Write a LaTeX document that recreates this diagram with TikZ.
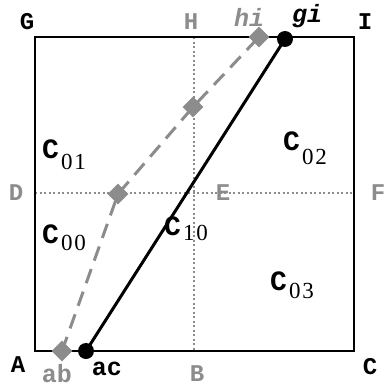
\documentclass[tikz,border=0pt]{standalone}
\usepackage{fontspec}
\setmonofont{Liberation Mono}
\newfontfamily\serifnum{Liberation Serif}
\usetikzlibrary{shapes.geometric}
\definecolor{lgray}{RGB}{140,140,140}
\tikzset{
  blk/.style={font=\ttfamily\bfseries\fontsize{24}{24}\selectfont, text=black, inner sep=0pt},
  gry/.style={font=\ttfamily\bfseries\fontsize{24}{24}\selectfont, text=lgray, inner sep=0pt},
  itl/.style={font=\ttfamily\bfseries\itshape\fontsize{25}{25}\selectfont, inner sep=0pt},
  upl/.style={font=\ttfamily\bfseries\fontsize{25}{25}\selectfont, inner sep=0pt},
  cell/.style={font=\ttfamily\bfseries\fontsize{28}{28}\selectfont, inner sep=0pt, anchor=base west},
  dia/.style={diamond, fill=lgray, minimum size=21pt, inner sep=0pt},
  dot/.style={circle, fill=black, minimum size=16pt, inner sep=0pt},
  midline/.style={lgray, line width=2pt, dash pattern=on 2pt off 2.5pt},
}
\newcommand{\cellC}[3]{C\kern2pt\raisebox{-#3pt}{\serifnum\mdseries\fontsize{23}{23}\selectfont #1\kern2pt#2}}
\begin{document}
\begin{tikzpicture}[x=1pt,y=-1pt]
\useasboundingbox (0,0) rectangle (384,388);
% corners
\coordinate (A) at (35,351);
\coordinate (C) at (354,351);
\coordinate (I) at (354,37);
\coordinate (G) at (35,37);
\coordinate (B) at (194,351);
\coordinate (H) at (194,37);
\coordinate (D) at (35,193);
\coordinate (F) at (354,193);
% dotted midlines
\draw[midline] (H) -- (B);
\draw[midline] (D) -- (F);
% square
\draw[line width=2.5pt] (A) -- (C) -- (I) -- (G) -- cycle;
% dashed line
\node[dia] (p1) at (62,351) {};
\node[dia] (p2) at (118,194) {};
\node[dia] (p3) at (193,107) {};
\node[dia] (p4) at (259,37) {};
\draw[lgray, line width=3pt, dash pattern=on 15pt off 9pt] (p1.center) -- (p2.center) -- (p3.center) -- (p4.center);
% solid line
\node[dot] (q1) at (86,351) {};
\node[dot] (q2) at (285,39) {};
\draw[line width=3pt] (q1.center) -- (q2.center);
% labels
\node[blk] (lG) at (27,22) {G};
\node[gry] (lH) at (191,22) {H};
\node[itl, text=lgray] (lhi) at (249,17) {hi};
\node[itl] (lgi) at (307,16) {gi};
\node[blk] (lI) at (365,22) {I};
\node[gry] (lD) at (16,193) {D};
\node[gry] (lE) at (223,193) {E};
\node[gry] (lF) at (378,193) {F};
\node[blk] (lA) at (18,365) {A};
\node[upl, text=lgray] (lab) at (57,374) {ab};
\node[upl] (lac) at (107,369) {ac};
\node[gry] (lB) at (197,374) {B};
\node[blk] (lC) at (370,367) {C};
% cells
\node[cell] (c01) at (42,158) {\cellC{0}{1}{11}};
\node[cell] (c02) at (283,150) {\cellC{0}{2}{14}};
\node[cell] (c00) at (42,243) {\cellC{0}{0}{7}};
\node[cell] (c10) at (164,235) {\cellC{1}{0}{5}};
\node[cell] (c03) at (270,290) {\cellC{0}{3}{8}};
\end{tikzpicture}
\end{document}
